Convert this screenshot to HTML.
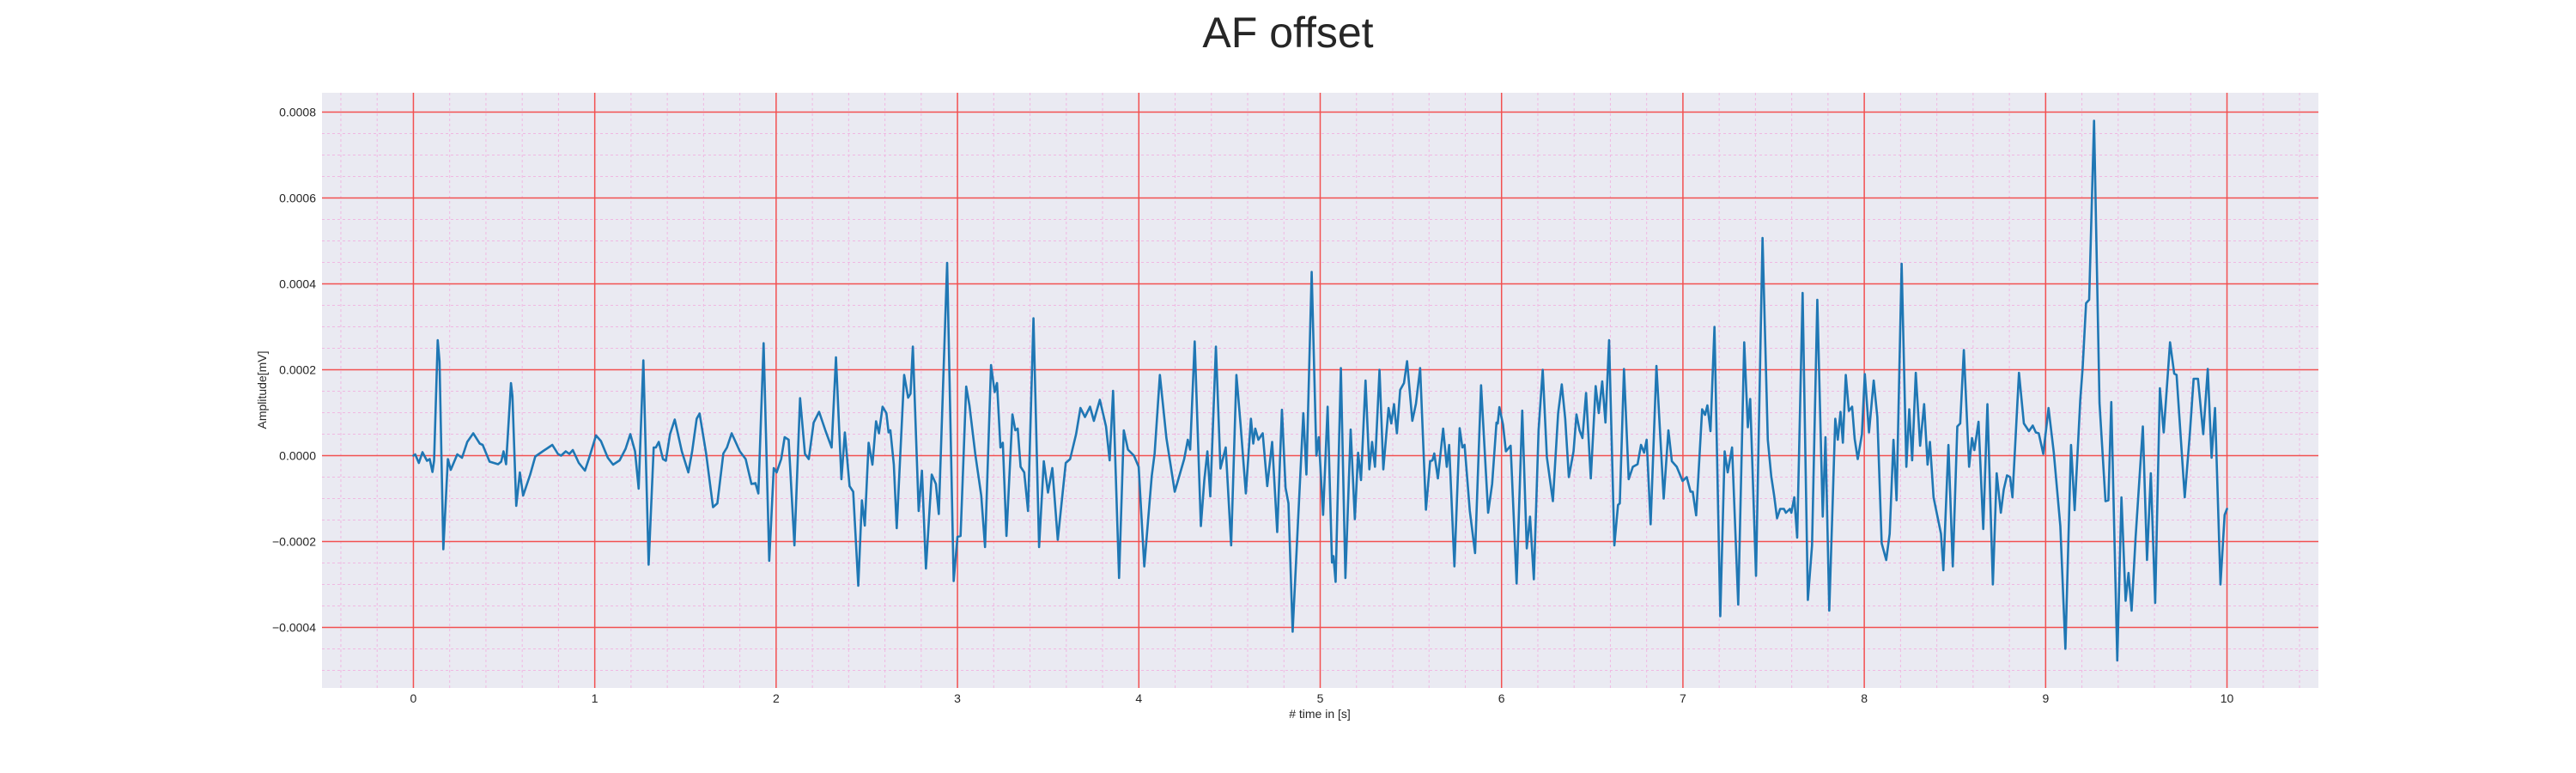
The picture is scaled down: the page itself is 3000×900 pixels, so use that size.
<!DOCTYPE html>
<html>
<head>
<meta charset="utf-8">
<style>
  html, body { margin: 0; padding: 0; background: #ffffff; }
  #chart { width: 3000px; height: 900px; display: block; }
  text { font-family: "Liberation Sans", "DejaVu Sans", sans-serif; fill: #262626; }
</style>
</head>
<body>
<svg id="chart" width="3000" height="900" viewBox="0 0 3000 900" xmlns="http://www.w3.org/2000/svg">
  <text x="1500" y="55" font-size="50" text-anchor="middle">AF offset</text>
  <rect x="375" y="108" width="2325" height="693" fill="#eaeaf2"/>
  <g id="minor-grid"></g>
  <g id="major-grid"></g>
  <g id="series"></g>
  <g id="x-ticks"></g>
  <g id="y-ticks"></g>
  <text x="1537" y="836" font-size="14" text-anchor="middle"># time in [s]</text>
  <text x="0" y="0" font-size="14" text-anchor="middle" transform="translate(310,454) rotate(-90)">Amplitude[mV]</text>
</svg>
<script>
// Data: time in seconds, amplitude in units of 1e-4 mV
const times = [0,0.01,0.03,0.05,0.075,0.09,0.105,0.114,0.134,0.144,0.165,0.19,0.206,0.242,0.268,0.297,0.33,0.366,0.382,0.42,0.467,0.484,0.497,0.511,0.538,0.546,0.567,0.587,0.605,0.644,0.672,0.713,0.745,0.766,0.797,0.814,0.84,0.86,0.879,0.912,0.946,0.97,1.007,1.034,1.072,1.101,1.137,1.17,1.196,1.222,1.242,1.268,1.297,1.325,1.337,1.353,1.376,1.392,1.415,1.441,1.48,1.516,1.537,1.562,1.578,1.614,1.652,1.676,1.709,1.729,1.755,1.8,1.832,1.864,1.886,1.902,1.931,1.962,1.987,2.003,2.028,2.047,2.069,2.101,2.132,2.159,2.18,2.207,2.237,2.273,2.306,2.33,2.36,2.379,2.405,2.425,2.453,2.473,2.489,2.51,2.531,2.551,2.567,2.587,2.608,2.62,2.63,2.649,2.665,2.706,2.728,2.741,2.754,2.786,2.804,2.826,2.858,2.881,2.897,2.943,2.979,3.0,3.017,3.048,3.066,3.098,3.131,3.152,3.185,3.205,3.218,3.237,3.25,3.27,3.303,3.319,3.332,3.348,3.368,3.389,3.419,3.45,3.476,3.499,3.523,3.553,3.597,3.621,3.654,3.678,3.703,3.731,3.752,3.785,3.819,3.839,3.858,3.891,3.917,3.94,3.973,3.999,4.03,4.071,4.087,4.116,4.152,4.198,4.25,4.27,4.283,4.308,4.342,4.361,4.378,4.394,4.425,4.45,4.479,4.509,4.538,4.561,4.59,4.618,4.631,4.642,4.659,4.683,4.708,4.735,4.763,4.789,4.809,4.825,4.848,4.907,4.924,4.953,4.979,4.992,5.016,5.041,5.065,5.073,5.085,5.114,5.139,5.168,5.191,5.209,5.225,5.25,5.271,5.286,5.302,5.327,5.348,5.377,5.392,5.407,5.423,5.441,5.462,5.479,5.508,5.528,5.551,5.583,5.606,5.619,5.629,5.649,5.678,5.698,5.711,5.74,5.769,5.784,5.796,5.825,5.854,5.887,5.926,5.948,5.972,5.979,5.988,6.008,6.024,6.05,6.083,6.114,6.139,6.157,6.178,6.204,6.227,6.25,6.283,6.312,6.332,6.351,6.371,6.397,6.413,6.43,6.446,6.466,6.492,6.519,6.536,6.555,6.573,6.593,6.622,6.642,6.652,6.675,6.701,6.724,6.75,6.769,6.786,6.8,6.822,6.854,6.894,6.92,6.939,6.966,6.998,7.021,7.042,7.054,7.073,7.106,7.122,7.135,7.152,7.174,7.206,7.23,7.247,7.271,7.305,7.338,7.358,7.371,7.403,7.439,7.468,7.487,7.503,7.519,7.536,7.557,7.568,7.59,7.598,7.614,7.63,7.66,7.689,7.712,7.741,7.771,7.786,7.807,7.84,7.854,7.869,7.882,7.898,7.915,7.933,7.947,7.964,7.987,8.003,8.026,8.052,8.072,8.096,8.121,8.14,8.161,8.178,8.206,8.232,8.248,8.264,8.284,8.308,8.33,8.349,8.362,8.382,8.423,8.436,8.464,8.488,8.513,8.529,8.549,8.578,8.594,8.607,8.63,8.656,8.679,8.709,8.73,8.753,8.769,8.787,8.804,8.817,8.853,8.88,8.908,8.929,8.946,8.962,8.987,9.016,9.045,9.081,9.109,9.14,9.16,9.191,9.204,9.223,9.24,9.267,9.297,9.33,9.346,9.362,9.395,9.418,9.441,9.457,9.474,9.496,9.536,9.559,9.58,9.604,9.63,9.651,9.686,9.709,9.722,9.767,9.795,9.816,9.84,9.869,9.894,9.915,9.934,9.964,9.987,10.0];
const amplitudes = [0,0.03,-0.17,0.08,-0.12,-0.08,-0.38,-0.12,2.69,2.2,-2.18,-0.08,-0.33,0.03,-0.05,0.32,0.52,0.28,0.25,-0.14,-0.2,-0.14,0.1,-0.2,1.69,1.39,-1.17,-0.39,-0.93,-0.44,-0.02,0.1,0.19,0.25,0.04,0,0.1,0.04,0.13,-0.17,-0.35,-0.04,0.47,0.34,-0.05,-0.21,-0.11,0.16,0.5,0.1,-0.77,2.22,-2.54,0.19,0.19,0.32,-0.08,-0.12,0.5,0.84,0.1,-0.39,0.1,0.86,0.98,0.05,-1.2,-1.11,0.05,0.19,0.52,0.1,-0.08,-0.66,-0.64,-0.88,2.62,-2.45,-0.29,-0.39,-0.08,0.43,0.37,-2.09,1.34,0.04,-0.08,0.77,1.02,0.57,0.19,2.29,-0.55,0.54,-0.71,-0.84,-3.03,-1.04,-1.63,0.3,-0.21,0.8,0.52,1.14,0.99,0.54,0.59,-0.21,-1.69,1.88,1.35,1.44,2.54,-1.29,-0.35,-2.63,-0.44,-0.66,-1.36,4.49,-2.92,-1.89,-1.87,1.61,1.17,0.04,-0.93,-2.13,2.11,1.48,1.69,0.19,0.3,-1.87,0.96,0.59,0.63,-0.26,-0.39,-1.29,3.2,-2.13,-0.13,-0.86,-0.29,-1.96,-0.17,-0.08,0.5,1.11,0.9,1.14,0.81,1.3,0.68,-0.11,1.51,-2.85,0.59,0.14,0,-0.26,-2.58,-0.48,0.05,1.88,0.41,-0.84,-0.08,0.37,0.14,2.66,-1.64,-0.57,0.1,-0.95,2.54,-0.3,0.19,-2.09,1.88,0.72,-0.88,0.86,0.28,0.63,0.37,0.52,-0.71,0.32,-1.78,1.07,-0.75,-1.11,-4.1,0.99,-0.44,4.28,0,0.43,-1.38,1.14,-2.49,-2.34,-2.94,2.04,-2.85,0.61,-1.48,0.07,-0.57,1.75,-0.32,0.32,-0.26,2.0,-0.32,1.11,0.75,1.2,0.52,1.53,1.69,2.2,0.81,1.21,2.04,-1.26,-0.13,-0.11,0.05,-0.53,0.63,-0.26,0.25,-2.58,0.64,0.19,0.25,-1.29,-2.27,1.64,-1.33,-0.66,0.77,0.75,1.13,0.72,0.1,0.23,-2.98,1.05,-2.16,-1.42,-2.88,0.59,2.0,-0.04,-1.06,0.99,1.66,0.86,-0.5,0.1,0.96,0.59,0.41,1.46,-0.53,1.62,0.99,1.73,0.77,2.69,-2.09,-1.15,-1.11,2.02,-0.55,-0.26,-0.2,0.25,0.07,0.37,-1.6,2.09,-1.0,0.59,-0.13,-0.26,-0.59,-0.5,-0.84,-0.84,-1.39,1.08,0.95,1.17,0.57,3.0,-3.74,0.1,-0.39,0.19,-3.47,2.64,0.66,1.32,-2.8,5.07,0.37,-0.48,-0.93,-1.46,-1.24,-1.24,-1.33,-1.24,-1.33,-0.97,-1.91,3.79,-3.36,-2.09,3.63,-1.42,0.43,-3.61,0.86,0.37,1.02,0.3,1.88,1.04,1.14,0.39,-0.08,0.5,1.9,0.54,1.75,0.9,-2.04,-2.43,-1.82,0.37,-1.04,4.47,-0.26,1.08,-0.11,1.93,0.23,1.2,-0.21,0.32,-0.97,-1.82,-2.67,0.25,-2.58,0.68,0.75,2.46,-0.26,0.41,0.13,0.79,-1.71,1.2,-3.0,-0.41,-1.33,-0.79,-0.46,-0.5,-0.97,1.93,0.75,0.57,0.7,0.54,0.52,0.04,1.11,0.07,-1.64,-4.5,0.25,-1.27,1.3,2.04,3.55,3.63,7.8,1.23,-1.06,-1.04,1.25,-4.77,-0.97,-3.38,-2.73,-3.61,-1.91,0.68,-2.43,-0.41,-3.43,1.57,0.54,2.64,1.91,1.88,-0.97,0.5,1.79,1.79,0.5,2.02,-0.05,1.11,-3.0,-1.38,-1.24];
const xTickValues = [0,1,2,3,4,5,6,7,8,9,10];
const xTickLabels = ["0","1","2","3","4","5","6","7","8","9","10"];
const yTickValues = [-0.0004,-0.0002,0,0.0002,0.0004,0.0006,0.0008];
const yTickLabels = ["\u22120.0004","\u22120.0002","0.0000","0.0002","0.0004","0.0006","0.0008"];

const NS = "http://www.w3.org/2000/svg";
const plotL = 375, plotR = 2700, plotT = 108, plotB = 801;
const xMin = -0.504, xMax = 10.504, yMin = -0.000541, yMax = 0.000845;
function xScale(t) { return plotL + (t - xMin) / (xMax - xMin) * (plotR - plotL); }
function yScale(v) { return plotB - (v - yMin) / (yMax - yMin) * (plotB - plotT); }

function line(g, x1, y1, x2, y2, stroke, w, dash) {
  const l = document.createElementNS(NS, "line");
  l.setAttribute("x1", x1); l.setAttribute("y1", y1);
  l.setAttribute("x2", x2); l.setAttribute("y2", y2);
  l.setAttribute("stroke", stroke); l.setAttribute("stroke-width", w);
  if (dash) l.setAttribute("stroke-dasharray", dash);
  g.appendChild(l);
  return l;
}

const minorG = document.getElementById("minor-grid");
for (let i = -2; i <= 52; i++) {
  if (i % 5 === 0) continue;
  const t = i * 0.2;
  if (t < xMin || t > xMax) continue;
  const l = line(minorG, xScale(t), plotT, xScale(t), plotB, "#f0b8e2", 1, "3,3");
  
  
}
for (let i = -11; i <= 17; i++) {
  if (i % 4 === 0) continue;
  const v = i * 0.00005;
  if (v < yMin || v > yMax) continue;
  const l = line(minorG, plotL, yScale(v), plotR, yScale(v), "#f0b8e2", 1, "3,3");
  
  
}

const majorG = document.getElementById("major-grid");
const xt = document.getElementById("x-ticks");
xTickValues.forEach((t, i) => {
  const l = line(majorG, xScale(t), plotT, xScale(t), plotB, "#f25050", 1.5);
  
  
  const tx = document.createElementNS(NS, "text");
  tx.setAttribute("x", xScale(t)); tx.setAttribute("y", 818);
  tx.setAttribute("font-size", "14"); tx.setAttribute("text-anchor", "middle");
  tx.textContent = xTickLabels[i];
  
  
  xt.appendChild(tx);
});
const yt = document.getElementById("y-ticks");
yTickValues.forEach((v, i) => {
  const l = line(majorG, plotL, yScale(v), plotR, yScale(v), "#f25050", 1.5);
  
  
  const tx = document.createElementNS(NS, "text");
  tx.setAttribute("x", 368); tx.setAttribute("y", yScale(v) + 5);
  tx.setAttribute("font-size", "14"); tx.setAttribute("text-anchor", "end");
  tx.textContent = yTickLabels[i];
  
  
  yt.appendChild(tx);
});

const seriesG = document.getElementById("series");
let d = "";
times.forEach((t, i) => {
  d += (i === 0 ? "M" : "L") + xScale(t).toFixed(2) + "," + yScale(amplitudes[i] * 1e-4).toFixed(2);
});
const path = document.createElementNS(NS, "path");
path.setAttribute("d", d);
path.setAttribute("fill", "none");
path.setAttribute("stroke", "#1f77b4");
path.setAttribute("stroke-width", "2.6");
path.setAttribute("stroke-linejoin", "round");
path.setAttribute("stroke-linecap", "round");


seriesG.appendChild(path);
</script>
</body>
</html>
